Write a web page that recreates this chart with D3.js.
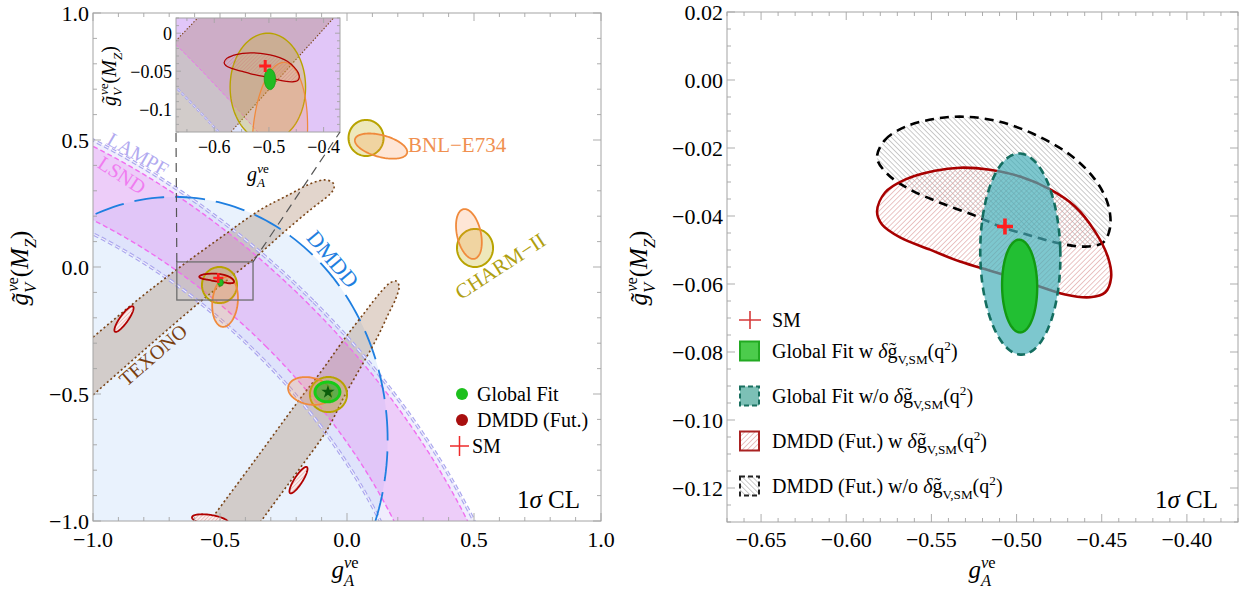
<!DOCTYPE html>
<html>
<head>
<meta charset="utf-8">
<script src="https://cdn.jsdelivr.net/npm/d3@7"></script>
<style>
  body { margin: 0; background: #fff; }
  svg { display: block; }
  text { font-family: "Liberation Serif", "Times New Roman", serif; }
</style>
</head>
<body>
<svg id="chart" width="1239" height="592"></svg>
<script>
// ---------- values (gA, gV) ----------
// current DMDD region (big light blue ellipse)
let dmddNow = { cx: -0.68, cy: -0.681, rx: 0.84, ry: 0.957, rot: 0 };
// LSND / LAMPF bands: u^2 + w^2/3 between these two levels
let lsndLevels = [0.468, 0.725];
let lampfLevels = [0.426, 0.75];
// TEXONO: two elongated arms, boundary points
let texonoArm1 = [[-1.209, -0.449], [-1.0, -0.276], [-0.815, -0.122], [-0.657, 0.0], [-0.5, 0.114],
  [-0.343, 0.224], [-0.224, 0.287], [-0.146, 0.327], [-0.087, 0.343], [-0.055, 0.331], [-0.051, 0.311],
  [-0.067, 0.287], [-0.146, 0.224], [-0.252, 0.134], [-0.354, 0.043], [-0.461, -0.043], [-0.579, -0.138],
  [-0.776, -0.307], [-1.0, -0.504], [-1.209, -0.689]];
let texonoArm2 = [[-0.638, -1.134], [-0.528, -0.984], [-0.362, -0.760], [-0.197, -0.535], [-0.098, -0.406],
  [-0.008, -0.280], [0.071, -0.177], [0.130, -0.102], [0.169, -0.063], [0.193, -0.055], [0.205, -0.075],
  [0.193, -0.122], [0.161, -0.189], [0.118, -0.280], [0.059, -0.386], [-0.008, -0.504], [-0.079, -0.642],
  [-0.205, -0.819], [-0.335, -0.996], [-0.433, -1.134]];
// BNL-E734 (orange) and CHARM-II (olive) solutions
let bnlFits = [
  { cx: 0.134, cy: 0.476, rx: 0.106, ry: 0.043, rot: -0.26 },
  { cx: 0.480, cy: 0.130, rx: 0.047, ry: 0.100, rot: 0.22 },
  { cx: -0.480, cy: -0.137, rx: 0.050, ry: 0.099, rot: -0.10 },
  { cx: -0.146, cy: -0.488, rx: 0.087, ry: 0.053, rot: -0.20 }];
let charmFits = [
  { cx: 0.075, cy: 0.508, rx: 0.069, ry: 0.071, rot: 0 },
  { cx: 0.504, cy: 0.075, rx: 0.071, ry: 0.075, rot: 0 },
  { cx: -0.502, cy: -0.071, rx: 0.069, ry: 0.071, rot: 0 },
  { cx: -0.073, cy: -0.502, rx: 0.073, ry: 0.069, rot: 0 }];
// DMDD (future) with q^2 running, contour points
let dmddFutW = [[-0.5819, -0.0387], [-0.5772, -0.0331], [-0.5655, -0.0293], [-0.5479, -0.0267], [-0.5332, -0.0258],
  [-0.5156, -0.0264], [-0.4979, -0.0284], [-0.4803, -0.0322], [-0.4657, -0.0372], [-0.4539, -0.0446],
  [-0.4463, -0.0522], [-0.4445, -0.0581], [-0.4480, -0.0625], [-0.4568, -0.0639], [-0.4715, -0.0631],
  [-0.4921, -0.0598], [-0.5120, -0.0566], [-0.5332, -0.0534], [-0.5508, -0.0499], [-0.5684, -0.0463],
  [-0.5790, -0.0425]];
// DMDD (future) without q^2 running
let dmddFutWo = [[-0.5819, -0.0229], [-0.5772, -0.0176], [-0.5655, -0.0138], [-0.5479, -0.0114], [-0.5302, -0.0108],
  [-0.5097, -0.0123], [-0.4891, -0.0161], [-0.4686, -0.0220], [-0.4539, -0.0293], [-0.4463, -0.0366],
  [-0.4451, -0.0434], [-0.4492, -0.0478], [-0.4598, -0.0490], [-0.4745, -0.0481], [-0.4921, -0.0457],
  [-0.5097, -0.0431], [-0.5244, -0.0399], [-0.5449, -0.0361], [-0.5625, -0.0322], [-0.5755, -0.0278]];
// other DMDD (future) solutions in the big panel
let dmddFutOther = [
  { cx: -0.878, cy: -0.205, rx: 0.061, ry: 0.016, rot: 0.95 },
  { cx: -0.191, cy: -0.839, rx: 0.061, ry: 0.016, rot: 1.0 },
  { cx: -0.539, cy: -0.996, rx: 0.072, ry: 0.020, rot: -0.15 }];
let globalFitW = { cx: -0.4982, cy: -0.0606, rx: 0.0103, ry: 0.01365, rot: 0.05 };
let globalFitWo = { cx: -0.4978, cy: -0.0512, rx: 0.0235, ry: 0.0296, rot: 0.06 };
let globalFitOther = { cx: -0.077, cy: -0.492, rx: 0.049, ry: 0.039, rot: 0 };
let starPoint = [-0.075, -0.492];
let smPoint = [-0.5068, -0.0431];

let leftLegend = ['Global Fit', 'DMDD (Fut.)', 'SM'];
let rightLegend = ['SM', 'Global Fit w', 'Global Fit w/o', 'DMDD (Fut.) w', 'DMDD (Fut.) w/o'];

// ---------- helpers ----------
const svg = d3.select('#chart');
const defs = svg.append('defs');

function ellipsePts(e, n) {
  n = n || 120;
  const c = Math.cos(e.rot || 0), s = Math.sin(e.rot || 0);
  return d3.range(n).map(i => {
    const t = 2 * Math.PI * i / n, ex = e.rx * Math.cos(t), ey = e.ry * Math.sin(t);
    return [e.cx + ex * c - ey * s, e.cy + ex * s + ey * c];
  });
}
function ringPts(level, n) {
  const r = Math.sqrt(level), k = Math.sqrt(3);
  return d3.range(n || 240).map(i => {
    const t = 2 * Math.PI * i / n;
    return [r * Math.cos(t) - 1 - k * r * Math.sin(t), r * Math.cos(t) - 1 + k * r * Math.sin(t)];
  });
}
const linP = (xs, ys) => d3.line().x(d => xs(d[0])).y(d => ys(d[1])).curve(d3.curveLinearClosed);
const smoothP = (xs, ys) => d3.line().x(d => xs(d[0])).y(d => ys(d[1])).curve(d3.curveCatmullRomClosed.alpha(0.5));

function hatch(id, color, angle, gap, w) {
  defs.append('pattern').attr('id', id).attr('width', gap).attr('height', gap)
    .attr('patternUnits', 'userSpaceOnUse').attr('patternTransform', `rotate(${angle})`)
    .append('line').attr('x1', 0).attr('y1', 0).attr('x2', 0).attr('y2', gap)
    .attr('stroke', color).attr('stroke-width', w);
}
hatch('hatchRed', '#d99494', 45, 3.6, 1.1);
hatch('hatchGray', '#a0a0a0', -45, 3.6, 1.1);
hatch('hatchRedS', '#cf8080', 45, 2.6, 0.8);

function clip(id, xs, ys) {
  const [x0, x1] = xs.range(), [y0, y1] = ys.range();
  defs.append('clipPath').attr('id', id).append('rect')
    .attr('x', x0).attr('y', y1).attr('width', x1 - x0).attr('height', y0 - y1);
}

// rich text with sub / superscripts
function rich(sel, parts, size) {
  let cur = 0;
  parts.forEach(p => {
    const off = p.sub ? size * 0.3 : p.sup ? -size * 0.42 : 0;
    const ts = sel.append('tspan').text(p.t).attr('dy', off - cur);
    cur = off;
    if (p.sub || p.sup) ts.attr('font-size', size * 0.66);
    if (p.it) ts.attr('font-style', 'italic');
    if (p.dx) ts.attr('dx', p.dx);
  });
}
const gvTitle = s => [{ t: 'g\u0303', it: 1 }, { t: 'V', it: 1, sub: 1 }, { t: '\u03bd', it: 1, sup: 1, dx: -s * 0.36 },
  { t: 'e', sup: 1 }, { t: '(' }, { t: 'M', it: 1 }, { t: 'Z', it: 1, sub: 1 }, { t: ')' }];
const gaTitle = s => [{ t: 'g', it: 1 }, { t: 'A', it: 1, sub: 1 }, { t: '\u03bd', it: 1, sup: 1, dx: -s * 0.4 }, { t: 'e', sup: 1 }];
const deltaG = [{ t: '\u03b4', it: 1 }, { t: 'g\u0303' }, { t: 'V,SM', sub: 1 }, { t: '(q' }, { t: '2', sup: 1 }, { t: ')' }];

function frame(g, xs, ys, xMaj, xMin, yMaj, yMin, len) {
  const [x0, x1] = xs.range(), [y0, y1] = ys.range();
  const tk = g.append('g').attr('stroke', '#a4a4a4').attr('stroke-width', 0.9);
  const isMaj = (arr, v) => arr.some(m => Math.abs(m - v) < 1e-9);
  xMin.forEach(v => {
    const L = isMaj(xMaj, v) ? len[0] : len[1];
    tk.append('line').attr('x1', xs(v)).attr('x2', xs(v)).attr('y1', y0).attr('y2', y0 - L);
    tk.append('line').attr('x1', xs(v)).attr('x2', xs(v)).attr('y1', y1).attr('y2', y1 + L);
  });
  yMin.forEach(v => {
    const L = isMaj(yMaj, v) ? len[0] : len[1];
    tk.append('line').attr('y1', ys(v)).attr('y2', ys(v)).attr('x1', x0).attr('x2', x0 + L);
    tk.append('line').attr('y1', ys(v)).attr('y2', ys(v)).attr('x1', x1).attr('x2', x1 - L);
  });
  g.append('rect').attr('x', x0).attr('y', y1).attr('width', x1 - x0).attr('height', y0 - y1)
    .attr('fill', 'none').attr('stroke', '#a4a4a4').attr('stroke-width', 1);
}

function smCross(g, xs, ys, r, w) {
  const x = xs(smPoint[0]), y = ys(smPoint[1]);
  g.append('path').attr('d', `M${x - r},${y}H${x + r}M${x},${y - r}V${y + r}`)
    .attr('stroke', '#ff1f1f').attr('stroke-width', w).attr('fill', 'none');
}

// the big panel scene (also re-drawn inside the inset)
function drawScene(g, xs, ys, k, inset) {
  const P = linP(xs, ys), S = smoothP(xs, ys);
  g.append('path').attr('d', P(ellipsePts(dmddNow, 240))).attr('fill', '#e9f2fd');
  g.append('path').attr('d', P(ringPts(lampfLevels[1], 360)) + P(ringPts(lampfLevels[0], 360)))
    .attr('fill', 'rgba(185,175,245,0.22)').attr('fill-rule', 'evenodd');
  g.append('path').attr('d', P(ringPts(lsndLevels[1], 360)) + P(ringPts(lsndLevels[0], 360)))
    .attr('fill', 'rgba(232,140,242,0.33)').attr('fill-rule', 'evenodd');
  [texonoArm1, texonoArm2].forEach(a => {
    g.append('path').attr('d', S(a)).attr('fill', 'rgba(160,115,85,0.3)');
  });
  lampfLevels.forEach(l => {
    g.append('path').attr('d', P(ringPts(l, 360))).attr('fill', 'none')
      .attr('stroke', '#aaa6ee').attr('stroke-width', 3.4 * k).attr('stroke-dasharray', `${5 * k},${3 * k}`);
    g.append('path').attr('d', P(ringPts(l, 360))).attr('fill', 'none').attr('stroke-opacity', 0.85)
      .attr('stroke', '#ffffff').attr('stroke-width', 1.1 * k).attr('stroke-dasharray', `${5 * k},${3 * k}`);
  });
  lsndLevels.forEach(l => {
    g.append('path').attr('d', P(ringPts(l, 360))).attr('fill', 'none')
      .attr('stroke', '#f06ef0').attr('stroke-width', 1.4 * k).attr('stroke-dasharray', `${5 * k},${3 * k}`);
  });
  g.append('path').attr('d', P(ellipsePts(dmddNow, 240))).attr('fill', 'none')
    .attr('stroke', '#1f7fe0').attr('stroke-width', 1.8).attr('stroke-dasharray', '30,11');
  [texonoArm1, texonoArm2].forEach(a => {
    g.append('path').attr('d', S(a)).attr('fill', 'none').attr('stroke', '#7a4416')
      .attr('stroke-width', 1.6 * k).attr('stroke-dasharray', `${2 * k},${2.6 * k}`);
  });
  charmFits.forEach(e => {
    g.append('path').attr('d', P(ellipsePts(e))).attr('fill', 'rgba(200,180,30,0.3)')
      .attr('stroke', '#b8a300').attr('stroke-width', 2 * k);
  });
  bnlFits.forEach(e => {
    g.append('path').attr('d', P(ellipsePts(e))).attr('fill', 'rgba(250,140,70,0.22)')
      .attr('stroke', '#f08a3c').attr('stroke-width', 1.8 * k);
  });
  g.append('path').attr('d', S(dmddFutW)).attr('fill', inset ? 'url(#hatchRedS)' : 'url(#hatchRed)')
    .attr('stroke', '#b00000').attr('stroke-width', 1.8 * k);
  dmddFutOther.forEach(e => {
    g.append('path').attr('d', P(ellipsePts(e))).attr('fill', '#fbeeee').attr('stroke', 'none');
    g.append('path').attr('d', P(ellipsePts(e))).attr('fill', 'url(#hatchRedS)')
      .attr('stroke', '#b00000').attr('stroke-width', 1.8 * k);
  });
  g.append('path').attr('d', P(ellipsePts(globalFitOther))).attr('fill', 'rgba(40,170,40,0.65)')
    .attr('stroke', '#17cc17').attr('stroke-width', 3);
  g.append('path').attr('transform', `translate(${xs(starPoint[0])},${ys(starPoint[1])})`)
    .attr('d', d3.symbol(d3.symbolStar, 55)()).attr('fill', '#0b5e0b');
  g.append('path').attr('d', P(ellipsePts(globalFitW))).attr('fill', '#22bb22')
    .attr('stroke', '#1aa01a').attr('stroke-width', inset ? 1 : 1.2);
  smCross(g, xs, ys, inset ? 6 : 5, inset ? 3 : 2.6);
}

function textAt(g, str, x, y, rot, color, size, anchor) {
  return g.append('text').attr('transform', `translate(${x},${y}) rotate(${rot})`)
    .attr('text-anchor', anchor || 'middle').attr('dy', '0.35em')
    .attr('fill', color).attr('font-size', size).text(str);
}

// ---------- left panel ----------
const xL = d3.scaleLinear([-1, 1], [93, 601]);
const yL = d3.scaleLinear([-1, 1], [521, 13]);
clip('clipL', xL, yL);
const gL = svg.append('g');
drawScene(gL.append('g').attr('clip-path', 'url(#clipL)'), xL, yL, 1, false);

// zoom rectangle and connector lines
const xI = d3.scaleLinear([-0.67, -0.37], [176, 340]);
const yI = d3.scaleLinear([-0.13, 0.02], [132, 18]);
gL.append('rect').attr('x', xL(-0.67)).attr('y', yL(0.02)).attr('width', xL(-0.37) - xL(-0.67))
  .attr('height', yL(-0.13) - yL(0.02)).attr('fill', 'none').attr('stroke', '#6e6e6e').attr('stroke-width', 1.3);

// labels of the experiments
textAt(gL, 'LAMPF', 138, 154, 30, '#b2aaf0', 20);
textAt(gL, 'LSND', 122, 175, 33, '#f07cf0', 20);
textAt(gL, 'TEXONO', 153, 355, -41, '#7a3f10', 20);
textAt(gL, 'DMDD', 333, 259, 50, '#1f7fe0', 22);
textAt(gL, 'CHARM\u2212II', 500, 266, -33, '#b0a010', 21);
textAt(gL, 'BNL\u2212E734', 408, 145, 0, '#f09050', 21, 'start');

// axes of left panel
frame(gL, xL, yL, xL.ticks(4), xL.ticks(20), yL.ticks(4), yL.ticks(20), [8, 4]);
const fmt1 = d3.format('.1f');
xL.ticks(4).forEach(v => gL.append('text').attr('x', xL(v)).attr('y', 547).attr('text-anchor', 'middle')
  .attr('font-size', 22).text(fmt1(v)));
yL.ticks(4).forEach(v => gL.append('text').attr('x', 89).attr('y', yL(v)).attr('dy', '0.35em')
  .attr('text-anchor', 'end').attr('font-size', 22).text(fmt1(v)));
rich(gL.append('text').attr('x', 345).attr('y', 578).attr('text-anchor', 'middle').attr('font-size', 25), gaTitle(25), 25);
rich(gL.append('text').attr('transform', 'translate(28,268) rotate(-90)').attr('text-anchor', 'middle')
  .attr('font-size', 25), gvTitle(25), 25);

// legend of left panel
const lgL = gL.append('g');
leftLegend.forEach((name, i) => {
  const y = [394, 420, 446][i];
  if (i < 2) lgL.append('circle').attr('cx', 462).attr('cy', y).attr('r', 6)
    .attr('fill', i === 0 ? '#1dc01d' : '#a80f0f');
  else lgL.append('path').attr('d', `M450,${y}H469M459.5,${y - 10}V${y + 10}`).attr('stroke', '#ee2b2b')
    .attr('stroke-width', 1.5);
  lgL.append('text').attr('x', i < 2 ? 477 : 472).attr('y', y).attr('dy', '0.33em').attr('font-size', 20).text(name);
});
rich(gL.append('text').attr('x', 517).attr('y', 508).attr('font-size', 25),
  [{ t: '1' }, { t: '\u03c3', it: 1 }, { t: ' CL' }], 25);

// ---------- inset ----------
clip('clipI', xI, yI);
const gI = svg.append('g');
gI.append('rect').attr('x', 176).attr('y', 18).attr('width', 164).attr('height', 114).attr('fill', '#fff');
drawScene(gI.append('g').attr('clip-path', 'url(#clipI)'), xI, yI, 0.7, true);
frame(gI, xI, yI, xI.ticks(3), xI.ticks(6), yI.ticks(3), yI.ticks(15), [5, 3]);
const fmtI = d3.format('.2~f');
xI.ticks(3).forEach(v => gI.append('text').attr('x', xI(v)).attr('y', 153).attr('text-anchor', 'middle')
  .attr('font-size', 18).text(fmtI(v)));
yI.ticks(3).forEach(v => gI.append('text').attr('x', 172).attr('y', yI(v)).attr('dy', '0.35em')
  .attr('text-anchor', 'end').attr('font-size', 18).text(fmtI(v)));
rich(gI.append('text').attr('x', 258).attr('y', 181).attr('text-anchor', 'middle').attr('font-size', 20), gaTitle(20), 20);
rich(gI.append('text').attr('transform', 'translate(116,76) rotate(-90)').attr('text-anchor', 'middle')
  .attr('font-size', 20), gvTitle(20), 20);
// connectors from the zoom box to the inset
[[-0.67], [-0.37]].forEach(([v]) => {
  svg.append('line').attr('x1', xL(v)).attr('y1', yL(0.02)).attr('x2', xI(v)).attr('y2', yI(-0.13))
    .attr('stroke', '#555').attr('stroke-width', 1.2).attr('stroke-dasharray', '9,6');
});

// ---------- right panel ----------
const xR = d3.scaleLinear([-0.67, -0.37], [727, 1238]);
const yR = d3.scaleLinear([-0.13, 0.02], [522, 12]);
clip('clipR', xR, yR);
const gR = svg.append('g');
const gRc = gR.append('g').attr('clip-path', 'url(#clipR)');
const SR = smoothP(xR, yR), PR = linP(xR, yR);
gRc.append('path').attr('d', SR(dmddFutWo)).attr('fill', 'url(#hatchGray)');
gRc.append('path').attr('d', SR(dmddFutW)).attr('fill', 'url(#hatchRed)');
gRc.append('path').attr('d', SR(dmddFutWo)).attr('fill', 'none').attr('stroke', '#000')
  .attr('stroke-width', 2.6).attr('stroke-dasharray', '9,6');
gRc.append('path').attr('d', SR(dmddFutW)).attr('fill', 'none').attr('stroke', '#a80000').attr('stroke-width', 2.6);
gRc.append('path').attr('d', PR(ellipsePts(globalFitWo, 160))).attr('fill', 'rgba(70,175,185,0.7)')
  .attr('stroke', '#146e60').attr('stroke-width', 2.6).attr('stroke-dasharray', '8,5');
gRc.append('path').attr('d', PR(ellipsePts(globalFitW, 160))).attr('fill', '#22bf33')
  .attr('stroke', '#129a12').attr('stroke-width', 2.4);
smCross(gRc, xR, yR, 8, 3.6);

frame(gR, xR, yR, xR.ticks(6), xR.ticks(30), yR.ticks(7), yR.ticks(30), [8, 4]);
const fmt2 = d3.format('.2f');
xR.ticks(6).forEach(v => gR.append('text').attr('x', xR(v)).attr('y', 547).attr('text-anchor', 'middle')
  .attr('font-size', 22).text(fmt2(v)));
yR.ticks(7).forEach(v => gR.append('text').attr('x', 723).attr('y', yR(v)).attr('dy', '0.35em')
  .attr('text-anchor', 'end').attr('font-size', 22).text(fmt2(v)));
rich(gR.append('text').attr('x', 982).attr('y', 578).attr('text-anchor', 'middle').attr('font-size', 25), gaTitle(25), 25);
rich(gR.append('text').attr('transform', 'translate(647,268) rotate(-90)').attr('text-anchor', 'middle')
  .attr('font-size', 25), gvTitle(25), 25);

// legend of right panel
const lgR = gR.append('g');
const rowY = [320, 351, 396, 441, 486];
lgR.append('path').attr('d', `M739,${rowY[0]}H761M750,${rowY[0] - 9}V${rowY[0] + 9}`)
  .attr('stroke', '#d63a3a').attr('stroke-width', 1.6);
const boxes = [
  { fill: '#4ccc4c', stroke: '#22aa22', dash: null },
  { fill: '#7cc0b6', stroke: '#1a7060', dash: '5,3' },
  { fill: 'url(#hatchRed)', stroke: '#aa2222', dash: null },
  { fill: 'url(#hatchGray)', stroke: '#222', dash: '5,3' }];
boxes.forEach((b, i) => {
  lgR.append('rect').attr('x', 740).attr('y', rowY[i + 1] - 9.5).attr('width', 19).attr('height', 19)
    .attr('fill', b.fill).attr('stroke', b.stroke).attr('stroke-width', 2).attr('stroke-dasharray', b.dash);
});
rightLegend.forEach((name, i) => {
  const t = lgR.append('text').attr('x', 772).attr('y', rowY[i] + 7).attr('font-size', 20);
  if (i === 0) t.text(name);
  else rich(t, [{ t: name + ' ' }].concat(deltaG), 20);
});
rich(gR.append('text').attr('x', 1155).attr('y', 508).attr('font-size', 25),
  [{ t: '1' }, { t: '\u03c3', it: 1 }, { t: ' CL' }], 25);
</script>
</body>
</html>
